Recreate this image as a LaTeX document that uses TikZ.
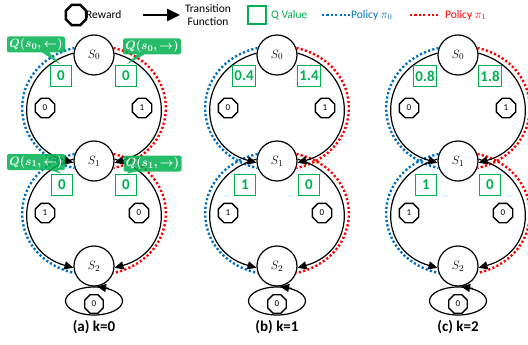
\documentclass[tikz,border=0pt]{standalone}
\usepackage{fontspec}
\setsansfont{Carlito}
\usepackage{tikz}
\usetikzlibrary{arrows.meta,%
                shapes,positioning}

\definecolor{qgreen}{RGB}{0,176,80}
\definecolor{pblue}{RGB}{0,112,192}
\definecolor{pred}{RGB}{255,0,0}

\begin{document}
\begin{tikzpicture}[x=1pt,y=1pt,
  state/.style={circle,draw,line width=1.2pt,fill=white,minimum size=40pt,inner sep=0pt,font=\fontsize{13}{13}\selectfont},
  reward/.style={regular polygon,regular polygon sides=8,draw,line width=1.4pt,fill=white,minimum size=21pt,inner sep=0pt,font=\sffamily\fontsize{9}{9}\selectfont},
  qbox/.style={draw=qgreen,line width=1.2pt,fill=white,text=qgreen,font=\sffamily\bfseries\fontsize{15}{15}\selectfont,minimum width=21pt,minimum height=21pt,inner sep=1.5pt},
  trans/.style={line width=1.2pt,-{Triangle[length=9pt,width=8pt]}},
  pol0/.style={pblue,line width=2.4pt,dash pattern=on 2.2pt off 2.2pt},
  pol1/.style={pred,line width=2.4pt,dash pattern=on 2.2pt off 2.2pt},
  qcall/.style={rectangle callout,fill=qgreen,fill opacity=0.85,text opacity=1,text=white,rounded corners=2pt,minimum width=58pt,minimum height=16pt,inner sep=1pt,font=\fontsize{13}{13}\selectfont\boldmath},
  legtext/.style={font=\sffamily\fontsize{11.5}{13}\selectfont,inner sep=0pt}]
\useasboundingbox (0,0) rectangle (528,-345);

% legend
\node[reward,minimum size=22pt,line width=2.6pt] (lrew) at (76,-15) {};
\node[legtext,anchor=west] (lrewtxt) at (86,-15) {Reward};
\coordinate (larr0) at (143,-15);
\coordinate (larr1) at (180,-15);
\draw[line width=2.5pt,-{Triangle[length=13pt,width=12pt]}] (larr0) -- (larr1);
\node[legtext,align=center] (ltrans) at (208,-15) {Transition\\Function};
\node[draw=qgreen,line width=2pt,minimum size=18pt,inner sep=0pt] (lq) at (257,-15) {};
\node[legtext,text=qgreen,right=4pt of lq] (lqtxt) {Q Value};
\coordinate (lpa0) at (322,-15);
\coordinate (lpb0) at (350,-15);
\draw[pol0,line width=2pt] (lpa0) -- (lpb0);
\node[legtext,text=pblue,anchor=west] (lp0txt) at (351,-15) {Policy $\pi_0$};
\coordinate (lpa1) at (410,-15);
\coordinate (lpb1) at (438,-15);
\draw[pol1,line width=2pt] (lpa1) -- (lpb1);
\node[legtext,text=pred,anchor=west] (lp1txt) at (445,-15) {Policy $\pi_1$};

% the three panels
\foreach \x/\p/\qa/\qb/\qc/\qd/\k in {94/a/0/0/0/0/0, 277/b/0.4/1.4/1/0/1, 458/c/0.8/1.8/1/0/2}{
  \node[state] (s0\p) at (\x,-55) {$S_0$};
  \node[state] (s1\p) at (\x,-161) {$S_1$};
  \node[state] (s2\p) at (\x,-266) {$S_2$};
  % policies
  \draw[pol0] (s0\p.160) .. controls +(-70,-16) and +(-70,16) .. (s1\p.200);
  \draw[pol1] (s0\p.20) .. controls +(70,-16) and +(70,16) .. (s1\p.-20);
  \draw[pol0] (s1\p.160) .. controls +(-70,-16) and +(-70,16) .. (s2\p.200);
  \draw[pol1] (s1\p.20) .. controls +(70,-16) and +(70,16) .. (s2\p.-20);
  % transitions
  \draw[trans] (s0\p.175) .. controls +(-61,-17) and +(-61,17) .. (s1\p.185);
  \draw[trans] (s0\p.5) .. controls +(61,-17) and +(61,17) .. (s1\p.-5);
  \draw[trans] (s1\p.175) .. controls +(-61,-17) and +(-61,17) .. (s2\p.185);
  \draw[trans] (s1\p.5) .. controls +(61,-17) and +(61,17) .. (s2\p.-5);
  \node[ellipse,draw,line width=1.2pt,minimum width=57pt,minimum height=28pt] (loop\p) at (\x,-301) {};
  \draw[trans] (loop\p.40) -- (loop\p.78);
  % rewards
  \node[reward] (rl0\p) at ({\x-49},-108) {0};
  \node[reward] (rr0\p) at ({\x+48},-108) {1};
  \node[reward] (rl1\p) at ({\x-49},-213) {1};
  \node[reward] (rr1\p) at ({\x+45},-213) {0};
  \node[reward,minimum size=20pt] (rs2\p) at (\x,-304) {0};
  % q values
  \node[qbox] (ql0\p) at ({\x-33},-76) {\qa};
  \node[qbox] (qr0\p) at ({\x+32},-76) {\qb};
  \node[qbox] (ql1\p) at ({\x-32},-185) {\qc};
  \node[qbox] (qr1\p) at ({\x+32},-185) {\qd};
  \node[font=\sffamily\bfseries\fontsize{15}{15}\selectfont] (cap\p) at (\x,-327) {(\p) k=\k};
}

% q labels
\node[qcall,callout absolute pointer={(ql0a.north)}] (cq0l) at (36,-44.5) {$Q(s_0,\leftarrow)$};
\node[qcall,callout absolute pointer={(qr0a.north)}] (cq0r) at (152,-46.5) {$Q(s_0,\rightarrow)$};
\node[qcall,callout absolute pointer={(ql1a.north)}] (cq1l) at (36,-162) {$Q(s_1,\leftarrow)$};
\node[qcall,callout absolute pointer={(qr1a.north)}] (cq1r) at (152.5,-163.5) {$Q(s_1,\rightarrow)$};
\end{tikzpicture}
\end{document}
